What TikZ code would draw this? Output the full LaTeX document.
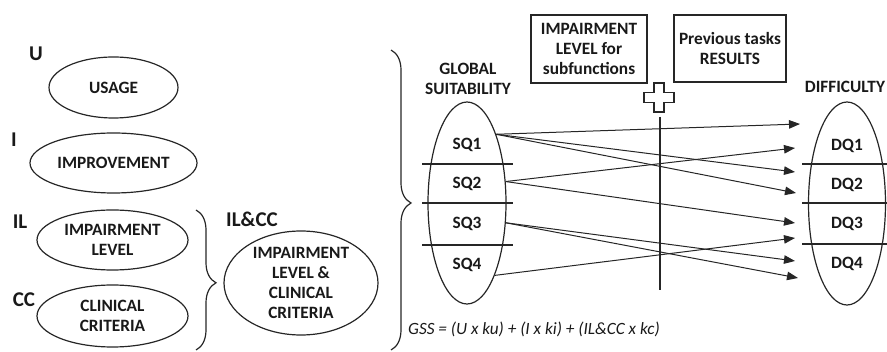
\documentclass[tikz,border=0pt]{standalone}
\usepackage{fontspec}
\setmainfont{Carlito}
\usetikzlibrary{shapes.geometric,arrows.meta,decorations.pathreplacing}
\begin{document}
\begin{tikzpicture}[x=1pt,y=-1pt,
  ink/.style={draw=black!85, line width=1.2pt},
  oval/.style={ink, ellipse, inner sep=0pt},
  lbl/.style={font=\bfseries\fontsize{17.3}{20}\selectfont, text=black!90, align=center, inner sep=0pt},
  tag/.style={font=\bfseries\fontsize{21}{24}\selectfont, text=black!90, inner sep=0pt},
  panel/.style={ink, rectangle, inner sep=0pt, align=center,
    font=\bfseries\fontsize{17.3}{20}\selectfont, text=black!90},
  flow/.style={draw=black!85, line width=1pt, -{Triangle[length=11pt,width=8.5pt]}},
  curly/.style={draw=black!85, line width=1.2pt, decorate},
]
\useasboundingbox (0,0) rectangle (887,352);

% criteria on the left
\node[tag] (u)  at (36,54)  {U};
\node[tag] (i)  at (14,140) {I};
\node[tag] (il) at (20,222) {IL};
\node[tag] (cc) at (24,300) {CC};

\node[oval, lbl, minimum width=129pt, minimum height=61pt] (usage) at (113.5,87.5) {USAGE};
\node[oval, lbl, minimum width=167pt, minimum height=60pt] (impr) at (113.5,163) {IMPROVEMENT};
\node[oval, lbl, minimum width=151pt, minimum height=60pt] (implev) at (112.5,240) {IMPAIRMENT\\LEVEL};
\node[oval, lbl, minimum width=151pt, minimum height=62pt] (clin) at (112.5,316) {CLINICAL\\CRITERIA};

% IL and CC merged
\draw[curly, decoration={brace, amplitude=20pt, aspect=0.52}] (196,210) -- (196,350);
\node[tag] (ilcc) at (252,219) {IL\&CC};
\node[oval, minimum width=154pt, minimum height=104pt] (merged) at (301,283) {};
\node[lbl] (mergedT) at (merged.center) {IMPAIRMENT\\LEVEL \&\\CLINICAL\\CRITERIA};

% everything feeds the global suitability
\draw[curly, decoration={brace, amplitude=20pt, aspect=0.51}] (391,50) -- (391,350);

% global suitability column
\node[lbl] (gsT) at (468,79) {GLOBAL\\SUITABILITY};
\node[oval, minimum width=78pt, minimum height=202pt] (sq) at (467,203) {};
\draw[ink] (422,164) -- (513,164);
\draw[ink] (422,203) -- (513,203);
\draw[ink] (422,245) -- (513,245);
\node[lbl] (sq1) at (467,145) {SQ1};
\node[lbl] (sq2) at (467,184) {SQ2};
\node[lbl] (sq3) at (467,224) {SQ3};
\node[lbl] (sq4) at (467,265) {SQ4};

% difficulty column
\node[lbl] (dfT) at (845,87) {DIFFICULTY};
\node[oval, minimum width=77pt, minimum height=203pt] (dq) at (847,203.5) {};
\draw[ink] (802,164) -- (887,164);
\draw[ink] (802,203) -- (887,203);
\draw[ink] (802,244) -- (887,244);
\node[lbl] (dq1) at (847,146) {DQ1};
\node[lbl] (dq2) at (847,185) {DQ2};
\node[lbl] (dq3) at (847,224) {DQ3};
\node[lbl] (dq4) at (847,264) {DQ4};

% extra inputs
\node[panel, minimum width=116pt, minimum height=68pt] (subf) at (589,49) {IMPAIRMENT\\LEVEL for\\subfunctions};
\node[panel, minimum width=112pt, minimum height=67pt] (prev) at (730,48.5) {Previous tasks\\RESULTS};
\draw[ink, line width=1.3pt] (654,83) -- (664,83) -- (664,92.5) -- (674,92.5) -- (674,102.5)
  -- (664,102.5) -- (664,112) -- (654,112) -- (654,102.5) -- (644,102.5) -- (644,92.5)
  -- (654,92.5) -- cycle;
\coordinate (vtop) at (660,117);
\coordinate (vbot) at (660,290);
\draw[ink] (vtop) -- (vbot);

% arrow ends in front of the difficulty column
\coordinate (t1) at (800,124);
\coordinate (t2) at (795,148);
\coordinate (t3) at (795,172);
\coordinate (t4) at (796,193);
\coordinate (t5) at (795,223);
\coordinate (t6) at (795,238);
\coordinate (t7) at (795,261);
\coordinate (t8) at (798,278);

\draw[flow] (sq.67) -- (t1);
\draw[flow] (sq.67) -- (t3);
\draw[flow] (sq.67) -- (t4);
\draw[flow] (sq.29) -- (t2);
\draw[flow] (sq.29) -- (t5);
\draw[flow] (sq.-27) -- (t7);
\draw[flow] (sq.-27) -- (t8);
\draw[flow] (sq.-69) -- (t6);

% weighting formula
\node[anchor=west, inner sep=0pt, text=black!90, font=\itshape\fontsize{17.2}{20}\selectfont] (gss) at (408,329)
  {GSS = (U x ku) + (I x ki) + (IL\&CC x kc)};
\end{tikzpicture}
\end{document}
